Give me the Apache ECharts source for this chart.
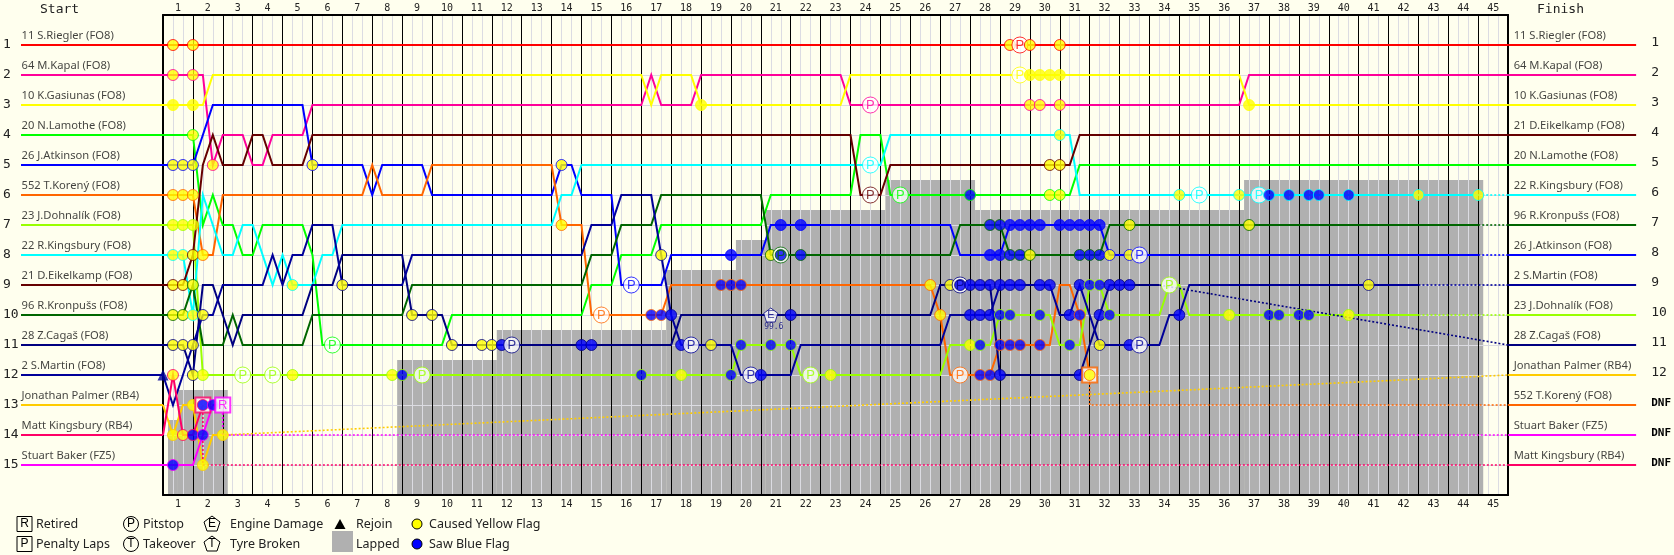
<!DOCTYPE html>
<html>
<head>
<meta charset="utf-8">
<title>Lap chart</title>
<script src="https://cdn.jsdelivr.net/npm/echarts@6/dist/echarts.min.js"></script>
<style>html,body{margin:0;padding:0;background:#ffffee}#chart{width:1674px;height:555px}</style>
</head>
<body>
<div id="chart"></div>
<script>
// The x axis counts sectors (three per lap); the y axis counts race positions.
const lapLabels = Array.from({length: 45}, (_, i) => String(i + 1));
const leftRows = ['1','2','3','4','5','6','7','8','9','10','11','12','13','14','15'];
const rightRows = ['1','2','3','4','5','6','7','8','9','10','11','12','DNF','DNF','DNF'];

const startNames = ['11 S.Riegler (FO8)','64 M.Kapal (FO8)','10 K.Gasiunas (FO8)','20 N.Lamothe (FO8)','26 J.Atkinson (FO8)','552 T.Korený (FO8)','23 J.Dohnalík (FO8)','22 R.Kingsbury (FO8)','21 D.Eikelkamp (FO8)','96 R.Kronpušs (FO8)','28 Z.Cagaš (FO8)','2 S.Martin (FO8)','Jonathan Palmer (RB4)','Matt Kingsbury (RB4)','Stuart Baker (FZ5)'];
const finishNames = ['11 S.Riegler (FO8)','64 M.Kapal (FO8)','10 K.Gasiunas (FO8)','21 D.Eikelkamp (FO8)','20 N.Lamothe (FO8)','22 R.Kingsbury (FO8)','96 R.Kronpušs (FO8)','26 J.Atkinson (FO8)','2 S.Martin (FO8)','23 J.Dohnalík (FO8)','28 Z.Cagaš (FO8)','Jonathan Palmer (RB4)','552 T.Korený (FO8)','Stuart Baker (FZ5)','Matt Kingsbury (RB4)'];
const finishRows = [1,2,3,5,8,13,10,6,4,7,11,9,12,15,14];
const driverColors = ['#ff0000','#ff0099','#ffff00','#00ff00','#0000ff','#ff6600','#99ff00','#00ffff','#660000','#006600','#000080','#000099','#ffcc00','#ff0066','#ff00ff'];

// Lapped zone: sector columns with the position each one starts from.
const lappedFrom = [0.5,1.5,23.5,33.5,50.5,57.5,60.5,72.5,81.5,108.5];
const lappedTo   = [1.5,6.5,33.5,50.5,57.5,60.5,72.5,81.5,108.5,132.5];
const lappedTop  = [13.5,12.5,11.5,10.5,8.5,7.5,6.5,5.5,6.5,5.5];

// Position changes per driver as [sector, position].
const rieglerTrack = [[0,1],[135,1]];
const kapalTrack = [[0,2],[4,2],[5,5],[6,4],[8,4],[9,5],[10,5],[11,4],[14,4],[15,3],[48,3],[49,2],[50,3],[53,3],[54,2],[68,2],[69,3],[108,3],[109,2],[135,2]];
const gasiunasTrack = [[0,3],[4,3],[5,2],[48,2],[49,3],[50,2],[53,2],[54,3],[68,3],[69,2],[108,2],[109,3],[135,3]];
const lamotheTrack = [[0,4],[3,4],[4,7],[5,6],[6,7],[7,7],[8,8],[9,8],[10,7],[14,7],[15,8],[16,11],[28,11],[29,10],[42,10],[43,9],[45,9],[46,8],[49,8],[50,7],[60,7],[61,6],[69,6],[70,4],[72,4],[73,6],[91,6],[92,5],[135,5]];
const atkinsonTrack = [[0,5],[3,5],[5,3],[14,3],[15,5],[20,5],[21,6],[22,5],[26,5],[27,6],[39,6],[40,5],[41,5],[42,6],[45,6],[46,9],[50,9],[51,8],[60,8],[61,7],[79,7],[80,8],[84,8],[85,7],[94,7],[95,8],[132,8]];
const korenyTrack = [[0,6],[3,6],[4,8],[5,8],[6,6],[20,6],[21,5],[22,6],[26,6],[27,5],[39,5],[40,7],[42,7],[43,10],[50,10],[51,9],[77,9],[78,10],[79,12],[83,12],[84,11],[89,11],[90,9],[91,9],[92,10],[93,12]];
const dohnalikTrack = [[0,7],[3,7],[4,12],[57,12],[58,11],[63,11],[64,12],[78,12],[79,11],[83,11],[84,10],[89,10],[90,11],[92,11],[93,9],[94,9],[95,10],[100,10],[101,9],[102,9],[103,10],[126,10]];
const rKingsburyTrack = [[0,8],[2,8],[3,10],[4,6],[6,8],[7,8],[8,7],[9,7],[11,9],[12,8],[13,9],[15,9],[16,8],[17,8],[18,7],[39,7],[40,6],[41,6],[42,5],[72,5],[73,4],[91,4],[92,6],[132,6]];
const eikelkampTrack = [[0,9],[2,9],[3,8],[4,5],[5,4],[6,5],[8,5],[9,4],[10,4],[11,5],[14,5],[15,4],[69,4],[70,6],[72,6],[73,5],[91,5],[92,4],[135,4]];
const kronpussTrack = [[0,10],[2,10],[3,9],[4,11],[6,11],[7,10],[8,11],[14,11],[15,10],[24,10],[25,9],[42,9],[43,8],[45,8],[46,7],[49,7],[50,6],[60,6],[61,8],[79,8],[80,7],[84,7],[85,8],[94,8],[95,7],[132,7]];
const cagasTrack = [[0,11],[2,11],[3,12],[4,9],[5,9],[6,10],[7,11],[8,10],[14,10],[15,9],[17,9],[18,8],[24,8],[25,10],[28,10],[29,11],[51,11],[52,10],[77,10],[78,9],[83,9],[84,12],[92,12],[93,11],[94,10],[95,9],[100,9]];
const martinTrack = [[0,12],[1,13],[2,12],[3,11],[4,10],[5,10],[6,9],[10,9],[11,8],[12,9],[13,8],[14,8],[15,7],[17,7],[18,9],[24,9],[25,8],[42,8],[43,7],[45,7],[46,6],[49,6],[50,8],[51,10],[52,11],[57,11],[58,12],[63,12],[64,11],[78,11],[79,10],[83,10],[84,9],[89,9],[90,10],[91,10],[92,9],[93,10],[94,11],[100,11],[101,10],[102,10],[103,9],[126,9]];
const palmerTrack = [[0,13],[1,14],[2,13],[3,13],[4,15],[5,14],[6,14]];
const mKingsburyTrack = [[0,14],[1,12],[2,14],[3,14],[4,13]];
const bakerTrack = [[0,15],[3,15],[4,14],[5,13],[6,13]];

// Stretches without timing data, drawn dotted.
const atkinsonDotted = [[132,8],[135,8]];
const korenyDotted = [[93,12],[93,13],[135,13]];
const dohnalikDotted = [[126,10],[135,10]];
const rKingsburyDotted = [[132,6],[135,6]];
const kronpussDotted = [[132,7],[135,7]];
const cagasDotted = [[100,9],[135,11]];
const martinDotted = [[126,9],[135,9]];
const palmerDotted = [[6,14],[135,12]];
const mKingsburyDotted = [[4,13],[4,15],[135,15]];
const bakerDotted = [[6,13],[6,14],[135,14]];

// Race events per driver as [sector, position].
const rieglerYellow = [[1,1],[3,1],[85,1],[87,1],[90,1]];
const rieglerPit = [[86,1]];
const kapalYellow = [[1,2],[3,2],[5,5],[87,3],[88,3],[90,3]];
const kapalPit = [[71,3]];
const gasiunasYellow = [[1,3],[3,3],[54,3],[87,2],[88,2],[89,2],[90,2],[109,3]];
const gasiunasPit = [[86,2]];
const lamotheYellow = [[3,4],[89,6],[90,6]];
const lamotheBlue = [[81,6]];
const lamothePit = [[17,11],[74,6]];
const atkinsonYellow = [[1,5],[2,5],[3,5],[15,5],[40,5],[95,8],[97,8]];
const atkinsonBlue = [[57,8],[62,7],[64,7],[83,8],[84,8],[85,7],[86,7],[87,7],[88,7],[90,7],[91,7],[92,7],[93,7],[94,7]];
const atkinsonPit = [[47,9],[98,8]];
const korenyYellow = [[1,6],[2,6],[3,6],[4,8],[40,7],[77,9],[78,10],[93,12]];
const korenyBlue = [[49,10],[50,10],[56,9],[57,9],[58,9],[82,12],[83,12],[84,11],[85,11],[86,11],[88,11],[92,10]];
const korenyPit = [[44,10],[80,12]];
const korenyRetired = [[93,12]];
const dohnalikYellow = [[1,7],[2,7],[3,7],[4,12],[13,12],[23,12],[52,12],[67,12],[81,11],[107,10],[119,10]];
const dohnalikBlue = [[24,12],[48,12],[57,12],[58,11],[61,11],[63,11],[82,11],[84,10],[85,10],[88,10],[91,11],[93,9],[94,9],[95,10],[111,10],[112,10],[114,10],[115,10]];
const dohnalikPit = [[8,12],[11,12],[26,12],[65,12],[101,9]];
const rKingsburyYellow = [[1,8],[2,8],[3,10],[13,9],[90,4],[102,6],[108,6],[126,6],[132,6]];
const rKingsburyBlue = [[111,6],[113,6],[115,6],[116,6],[119,6]];
const rKingsburyPit = [[71,5],[104,6],[110,6]];
const eikelkampYellow = [[1,9],[2,9],[3,8],[89,5],[90,5]];
const eikelkampPit = [[71,6]];
const kronpussYellow = [[1,10],[2,10],[3,9],[61,8],[87,8],[97,7],[109,7]];
const kronpussBlue = [[62,8],[64,8],[83,7],[84,7],[85,8],[86,8],[92,8],[93,8],[94,8]];
const kronpussPit = [[62,8]];
const cagasYellow = [[1,11],[2,11],[3,12],[25,10],[27,10],[29,11],[32,11],[33,11],[79,9]];
const cagasBlue = [[34,11],[42,11],[43,11],[63,10],[80,9],[81,9],[82,9],[83,9],[84,12],[92,12],[94,10],[95,9],[96,9],[97,9]];
const cagasPit = [[35,11],[80,9]];
const cagasEngine = [[61,10]];
const martinYellow = [[3,11],[4,10],[18,9],[50,8],[55,11],[94,11],[121,9]];
const martinBlue = [[51,10],[52,11],[60,12],[81,10],[82,10],[83,10],[84,9],[85,9],[86,9],[88,9],[89,9],[91,10],[92,9],[97,11],[102,10]];
const martinPit = [[53,11],[59,12],[98,11]];
const martinRejoin = [[0,12]];
const palmerYellow = [[1,14],[3,13],[4,15],[6,14]];
const mKingsburyYellow = [[1,12],[2,14]];
const mKingsburyBlue = [[3,14],[4,13]];
const mKingsburyRetired = [[4,13]];
const bakerBlue = [[1,15],[4,14],[5,13]];
const bakerRetired = [[6,13]];

const engineLabel = '99.6';

const tracks = [rieglerTrack,kapalTrack,gasiunasTrack,lamotheTrack,atkinsonTrack,korenyTrack,dohnalikTrack,rKingsburyTrack,eikelkampTrack,kronpussTrack,cagasTrack,martinTrack,palmerTrack,mKingsburyTrack,bakerTrack];
const dotted = [[],[],[],[],atkinsonDotted,korenyDotted,dohnalikDotted,rKingsburyDotted,[],kronpussDotted,cagasDotted,martinDotted,palmerDotted,mKingsburyDotted,bakerDotted];
const yellowFlags = [rieglerYellow,kapalYellow,gasiunasYellow,lamotheYellow,atkinsonYellow,korenyYellow,dohnalikYellow,rKingsburyYellow,eikelkampYellow,kronpussYellow,cagasYellow,martinYellow,palmerYellow,mKingsburyYellow,[]];
const blueFlags = [[],[],[],lamotheBlue,atkinsonBlue,korenyBlue,dohnalikBlue,rKingsburyBlue,[],kronpussBlue,cagasBlue,martinBlue,[],mKingsburyBlue,bakerBlue];
const pitstops = [rieglerPit,kapalPit,gasiunasPit,lamothePit,atkinsonPit,korenyPit,dohnalikPit,rKingsburyPit,eikelkampPit,kronpussPit,cagasPit,martinPit,[],[],[]];
const retirements = [[],[],[],[],[],korenyRetired,[],[],[],[],[],[],[],mKingsburyRetired,bakerRetired];
const engines = [[],[],[],[],[],[],[],[],[],[],cagasEngine,[],[],[],[]];

const FONT = '"Noto Sans"';
const MONO = '"DejaVu Sans Mono"';
const MARK_FONT = '"Liberation Sans"';
const CREAM = '#ffffee';
const GRID = '#dcdce2';
const PENTAGON = 'path://M50 0 L100 38 L81 100 L19 100 L0 38 Z';
const STUB_LEFT_PX = 142;
const STUB_RIGHT_PX = 128;

const lineSeries = (data, color) => ({
  type: 'line', data, xAxisIndex: 0, yAxisIndex: 0, symbol: 'none', clip: false, silent: true,
  animation: false, z: 3, lineStyle: {color, width: 2, join: 'miter'}
});
const dottedSeries = (data, color) => ({
  type: 'line', data, xAxisIndex: 0, yAxisIndex: 0, symbol: 'none', clip: false, silent: true,
  animation: false, z: 3, lineStyle: {color, width: 1.6, type: [2, 2], cap: 'butt'}
});

const series = [];

series.push({
  type: 'custom', xAxisIndex: 0, yAxisIndex: 0, z: -1, silent: true, animation: false,
  data: lappedFrom.map((f, i) => [f, lappedTo[i], lappedTop[i]]),
  encode: {x: [0, 1], y: 2},
  renderItem: (params, api) => {
    const a = api.coord([api.value(0), api.value(2)]);
    const b = api.coord([api.value(1), 16]);
    return {type: 'rect', shape: {x: a[0], y: a[1], width: b[0] - a[0], height: b[1] - a[1]}, style: {fill: '#b0b0b0'}};
  }
});

// Coloured name rules outside the plot, starting from each driver's grid and finishing place.
const stubRows = [];
tracks.forEach((track, i) => {
  stubRows.push([0, track[0][1], i, -STUB_LEFT_PX]);
  stubRows.push([135, finishRows[i], i, STUB_RIGHT_PX]);
});
series.push({
  type: 'custom', xAxisIndex: 0, yAxisIndex: 0, z: 3, silent: true, animation: false, clip: false,
  data: stubRows,
  encode: {x: 0, y: 1},
  renderItem: (params, api) => {
    const p = api.coord([api.value(0), api.value(1)]);
    return {type: 'line', shape: {x1: p[0], y1: p[1], x2: p[0] + api.value(3), y2: p[1]},
      style: {stroke: driverColors[api.value(2)], lineWidth: 2}};
  }
});

tracks.forEach((track, i) => {
  series.push(lineSeries(track, driverColors[i]));
  if (dotted[i].length) series.push(dottedSeries(dotted[i], driverColors[i]));
});

// Race events are stacked in time order so later ones sit on top.
const letter = (text, color, size) => ({show: true, formatter: text, position: 'inside', color, fontFamily: MARK_FONT, fontSize: size});
const events = [];
tracks.forEach((_, i) => {
  const c = driverColors[i];
  retirements[i].forEach(v => events.push({rank: 0, value: v, symbol: 'rect', symbolSize: 15,
    itemStyle: {color: '#fff', borderColor: c, borderWidth: 2},
    label: letter(i === 14 ? 'R' : '', c, 13)}));
  pitstops[i].forEach(v => events.push({rank: 1, value: v, symbol: 'circle', symbolSize: 16,
    itemStyle: {color: '#fff', borderColor: c, borderWidth: 1}, label: letter('P', c, 13)}));
  engines[i].forEach(v => events.push({rank: 1, value: v, symbol: PENTAGON, symbolSize: 14,
    itemStyle: {color: '#fff', borderColor: c, borderWidth: 1}, label: letter('E', c, 11)}));
  yellowFlags[i].forEach(v => events.push({rank: 2, value: v, symbol: 'circle', symbolSize: 11,
    itemStyle: {color: '#ffff00', borderColor: c, borderWidth: 1}}));
  blueFlags[i].forEach(v => events.push({rank: 2, value: v, symbol: 'circle', symbolSize: 11,
    itemStyle: {color: '#0000ff', borderColor: c, borderWidth: 1}}));
});
events.sort((a, b) => a.value[0] - b.value[0] || a.rank - b.rank);
const hidden = {color: 'rgba(0,0,0,0)', borderWidth: 0};
const noteItems = cagasEngine.map(v => ({value: v, symbolSize: 1, itemStyle: hidden,
  label: {show: true, formatter: engineLabel, position: 'inside', offset: [3, 12], color: '#000080', fontFamily: MONO, fontSize: 8}}));
const rejoinItems = martinRejoin.map(v => ({value: v, symbol: 'triangle', symbolSize: 11, itemStyle: {color: '#000099'}}));

series.push({type: 'scatter', xAxisIndex: 0, yAxisIndex: 0, clip: false, silent: true, animation: false, z: 5,
  data: [...rejoinItems, ...events.map(({rank, ...e}) => e), ...noteItems]});

const nameItems = (names, x, dx) => names.map((n, i) => ({value: [x, i + 1], symbolSize: 1, itemStyle: hidden,
  label: {show: true, formatter: n, position: 'right', distance: 0, offset: [dx, -9], color: '#111', fontFamily: FONT, fontSize: 11.2}}));
series.push({type: 'scatter', xAxisIndex: 0, yAxisIndex: 0, clip: false, silent: true, animation: false, z: 6,
  data: [...nameItems(startNames, 0, -STUB_LEFT_PX), ...nameItems(finishNames, 135, 5)]});

const rowFormatter = labels => v => {
  const t = labels[v - 1];
  if (!t) return '';
  return t === 'DNF' ? '{dnf|DNF}' : t;
};
const lapAxis = (position, margin) => ({
  type: 'category', position, data: lapLabels, boundaryGap: true,
  axisTick: {show: false}, splitLine: {show: false},
  axisLine: {show: true, lineStyle: {color: '#000', width: 2}},
  axisLabel: {margin, interval: 0, color: '#222', fontFamily: MONO, fontSize: 10}
});

const legendText = (text, x, y) => ({type: 'text', x, y, silent: true,
  style: {text, fill: '#222', fontFamily: FONT, fontSize: 12.5, verticalAlign: 'middle', align: 'left'}});
const legendGlyph = (text, x, y) => ({type: 'text', x, y, silent: true,
  style: {text, fill: '#000', fontFamily: MARK_FONT, fontSize: 12, verticalAlign: 'middle', align: 'center'}});
const legendBox = (x, y) => ({type: 'rect', shape: {x: x - 7.5, y: y - 7.5, width: 15, height: 15}, silent: true,
  style: {fill: CREAM, stroke: '#000', lineWidth: 1}});
const legendRing = (x, y) => ({type: 'circle', shape: {cx: x, cy: y, r: 7.5}, silent: true,
  style: {fill: CREAM, stroke: '#000', lineWidth: 1}});
const legendPent = (x, y) => ({type: 'polygon', silent: true,
  shape: {points: [[x, y - 8], [x + 8, y - 2], [x + 5, y + 7], [x - 5, y + 7], [x - 8, y - 2]]},
  style: {fill: CREAM, stroke: '#000', lineWidth: 1}});
const legendDot = (x, y, fill) => ({type: 'circle', shape: {cx: x, cy: y, r: 5}, silent: true,
  style: {fill, stroke: '#000', lineWidth: 1}});

const graphic = [
  {type: 'text', x: 40, y: 10, silent: true, style: {text: 'Start', fill: '#222', fontFamily: MONO, fontSize: 13, verticalAlign: 'middle'}},
  {type: 'text', x: 1537, y: 10, silent: true, style: {text: 'Finish', fill: '#222', fontFamily: MONO, fontSize: 13, verticalAlign: 'middle'}},
  legendBox(24.5, 524), legendGlyph('R', 24.5, 524), legendText('Retired', 36, 524),
  legendBox(24.5, 544), legendGlyph('P', 24.5, 544), legendText('Penalty Laps', 36, 544),
  legendRing(131, 524), legendGlyph('P', 131, 524), legendText('Pitstop', 143, 524),
  legendRing(131, 544), legendGlyph('T', 131, 544), legendText('Takeover', 143, 544),
  legendPent(212, 524), legendGlyph('E', 212, 524), legendText('Engine Damage', 230, 524),
  legendPent(212, 544), legendGlyph('T', 212, 544), legendText('Tyre Broken', 230, 544),
  {type: 'polygon', silent: true, shape: {points: [[340, 519], [345.5, 529], [334.5, 529]]}, style: {fill: '#000'}},
  legendText('Rejoin', 356, 524),
  {type: 'rect', silent: true, shape: {x: 332, y: 531, width: 21, height: 21}, style: {fill: '#b0b0b0'}},
  legendText('Lapped', 356, 544),
  legendDot(417, 524, '#ffff00'), legendText('Caused Yellow Flag', 429, 524),
  legendDot(417, 544, '#0000ff'), legendText('Saw Blue Flag', 429, 544)
];

const option = {
  backgroundColor: CREAM,
  animation: false,
  tooltip: {show: false},
  grid: {left: 162, top: 15, width: 1350, height: 480, containLabel: false},
  xAxis: [
    {type: 'value', min: 0, max: 135, interval: 1, position: 'top',
      axisLine: {show: false}, axisTick: {show: false}, axisLabel: {show: false},
      splitLine: {show: true, lineStyle: {color: ['#000', GRID, GRID], width: 1}}},
    lapAxis('top', 2),
    lapAxis('bottom', 4)
  ],
  yAxis: [
    {type: 'value', min: 0, max: 16, interval: 1, inverse: true, position: 'left',
      axisLine: {show: true, lineStyle: {color: '#000', width: 2}}, axisTick: {show: false},
      splitLine: {show: true, lineStyle: {color: GRID, width: 1}},
      axisLabel: {margin: 160, align: 'left', padding: [0, 0, 4, 0], color: '#222', fontFamily: MONO, fontSize: 13, formatter: rowFormatter(leftRows)}},
    {type: 'value', min: 0, max: 16, interval: 1, inverse: true, position: 'right',
      axisLine: {show: true, lineStyle: {color: '#000', width: 2}}, axisTick: {show: false},
      splitLine: {show: false},
      axisLabel: {margin: 143, align: 'left', padding: [0, 0, 4, 0], color: '#222', fontFamily: MONO, fontSize: 13, formatter: rowFormatter(rightRows),
        rich: {dnf: {fontFamily: MONO, fontWeight: 'bold', fontSize: 11, color: '#000'}}}}
  ],
  series,
  graphic
};

const chart = echarts.init(document.getElementById('chart'), null, {renderer: 'canvas'});
chart.setOption(option);
</script>
</body>
</html>
